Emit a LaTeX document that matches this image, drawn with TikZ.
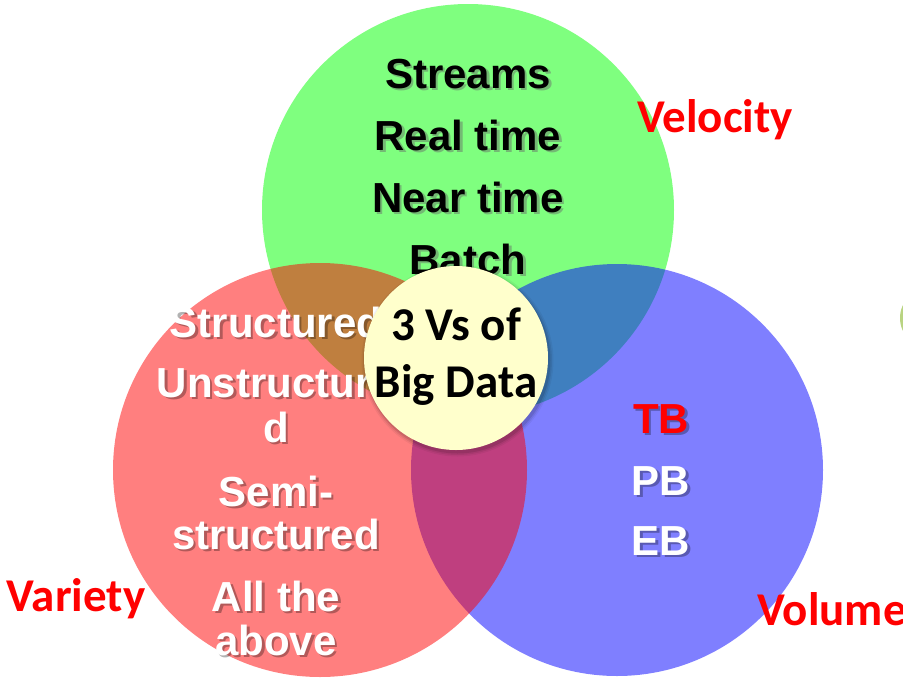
\documentclass[tikz,border=0pt]{standalone}
\usepackage{fontspec}
\setmainfont{Liberation Sans}
\newfontfamily\calibrifont{Carlito}
\definecolor{yell}{RGB}{255,255,204}
\definecolor{sliver}{RGB}{185,212,130}
\begin{document}
\begin{tikzpicture}[x=1pt,y=-1pt,
  ar/.style={inner sep=0pt, anchor=base, font=\bfseries\fontsize{42}{42}\selectfont},
  cb/.style={inner sep=0pt, anchor=base, font=\calibrifont\bfseries\fontsize{47}{47}\selectfont},
  lab/.style={inner sep=0pt, anchor=base, text=red, font=\calibrifont\bfseries\fontsize{47}{47}\selectfont},
  shd/.style={text=black, text opacity=0.3},
  shdk/.style={text=black!60, text opacity=0.45}]
\useasboundingbox (0,0) rectangle (903,678);
% circles
\fill[green, fill opacity=0.5] (468,210) circle (206pt);
\fill[blue, fill opacity=0.5] (617,470) circle (206pt);
\fill[red, fill opacity=0.5] (320,470) circle (207pt);
\fill[sliver] (930,318) ellipse (30pt and 30pt);
% green texts
\foreach \t/\y/\n in {Streams/88/s1, Real time/150/s2, Near time/212/s3, Batch/274/s4}{
  \node[ar, shdk] (\n sh) at (470.5,\y+2.5) {\t};
  \node[ar] (\n) at (468,\y) {\t};
}
% red texts
\foreach \t/\y/\n in {Structured/337/r1, Unstructure/397/r2, d/442/r3, Semi-/506/r4, structured/549/r5, All the/611/r6, above/655/r7}{
  \node[ar, shd] (\n sh) at (278.5,\y+2.5) {\t};
  \node[ar, text=white] (\n) at (276,\y) {\t};
}
% blue texts
\node[ar, shd] (tbsh) at (663.5,435.5) {TB};
\node[ar, text=red] (tb) at (661,433) {TB};
\node[ar, shd] (pbsh) at (663.5,497.5) {PB};
\node[ar, text=white] (pb) at (661,495) {PB};
\node[ar, shd] (ebsh) at (663.5,557.5) {EB};
\node[ar, text=white] (eb) at (661,555) {EB};
% centre circle with soft shadow
\foreach \r/\o in {96/0.05, 94.5/0.07, 93/0.1}{
  \fill[black, opacity=\o] (457.5,360.5) circle (\r pt);
}
\fill[yell] (456,358) circle (92pt);
\node[cb] (c1) at (456,340) {3 Vs of};
\node[cb] (c2) at (456,397) {Big Data};
% labels
\node[lab] (vel) at (715,132) {Velocity};
\node[lab] (var) at (76,611) {Variety};
\node[lab, anchor=base west] (vol) at (757,625) {Volume};
\end{tikzpicture}
\end{document}
